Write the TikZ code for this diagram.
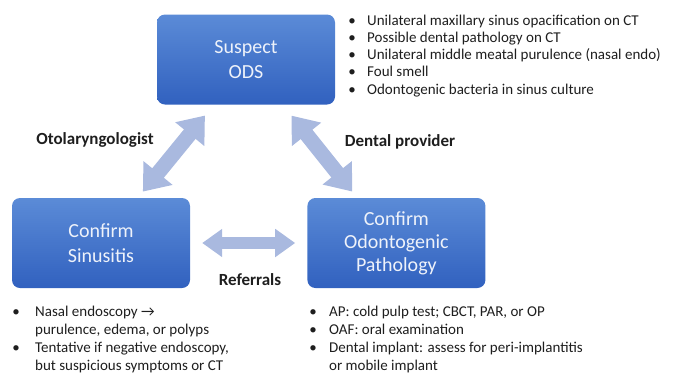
\documentclass[tikz,border=0pt]{standalone}
\usepackage{fontspec}
\setmainfont{Carlito}
\usetikzlibrary{positioning}
\usetikzlibrary{calc}
\usetikzlibrary{arrows.meta}
\definecolor{boxtop}{HTML}{5B8BD7}
\definecolor{boxbot}{HTML}{3161BF}
\definecolor{boxtxt}{HTML}{EEF2FA}
\definecolor{arrowblue}{HTML}{A9B9DF}
\definecolor{ink}{HTML}{1E1E1E}
\tikzset{
	odsbox/.style = {rectangle, rounded corners=8pt, top color=boxtop, bottom color=boxbot, minimum width=178pt, minimum height=90pt, text=boxtxt, align=center, font=\fontsize{20}{25}\selectfont},
	who/.style = {inner sep=0pt, text=ink, font=\fontsize{17}{20}\selectfont\bfseries},
	bul/.style = {anchor=base west, inner sep=0pt, text=ink},
	twoway/.style = {draw=arrowblue, line width=15pt, {Triangle[width=36pt,length=24pt]}-{Triangle[width=36pt,length=24pt]}},
	sideway/.style = {draw=arrowblue, line width=12pt, {Triangle[width=27pt,length=20pt]}-{Triangle[width=27pt,length=20pt]}}
}
\newcommand{\bu}{\makebox[10pt]{\textbullet}}

\begin{document}
\begin{tikzpicture}[x=1pt, y=-1pt]
	\useasboundingbox (0,0) rectangle (673,376);
	
	\node (ods) [odsbox] at (246,59.5) {Suspect\\ODS};
	\node (sin) [odsbox] at (101,243) {Confirm\\Sinusitis};
	\node (odo) [odsbox, right = 117pt of sin] {Confirm\\[-2pt]Odontogenic\\[-2pt]Pathology};
	
	\coordinate (lt) at ($(ods.south west)+(57,0)$);
	\coordinate (lb) at ($(sin.north west)+(126,0)$);
	\coordinate (rt) at ($(ods.south west)+(126,0)$);
	\coordinate (rb) at ($(odo.north west)+(50,0)$);
	
	\draw[twoway, shorten <=14pt, shorten >=8pt] (lt) -- (lb);
	\draw[twoway, shorten <=14pt, shorten >=8pt] (rt) -- (rb);
	\draw[sideway, shorten <=12pt, shorten >=12pt] (sin) -- (odo);
	
	\node (oto) [who] at (95,140) {Otolaryngologist};
	\node (dent) [who] at (400,142) {Dental provider};
	\node (ref) [who] at (250,280) {Referrals};
	
	% findings that raise suspicion
	\node (obs) [bul, font=\fontsize{15}{17.3}\selectfont] at (347,25) {\begin{tabular}[t]{@{}c@{\hspace{10pt}}l@{}}
		\bu & Unilateral maxillary sinus opacification on CT\\
		\bu & Possible dental pathology on CT\\
		\bu & Unilateral middle meatal purulence (nasal endo)\\
		\bu & Foul smell\\
		\bu & Odontogenic bacteria in sinus culture
	\end{tabular}};
	
	% how sinusitis is confirmed
	\node (endo) [bul, font=\fontsize{15}{18}\selectfont] at (11,316) {\begin{tabular}[t]{@{}c@{\hspace{14pt}}l@{}}
		\bu & Nasal endoscopy →\\
		    & purulence, edema, or polyps\\
		\bu & Tentative if negative endoscopy,\\
		    & but suspicious symptoms or CT
	\end{tabular}};
	
	% how the dental source is confirmed
	\node (dx) [bul, font=\fontsize{15}{18}\selectfont] at (308,316) {\begin{tabular}[t]{@{}c@{\hspace{11pt}}l@{}}
		\bu & AP: cold pulp test; CBCT, PAR, or OP\\
		\bu & OAF: oral examination\\
		\bu & Dental implant: assess for peri-implantitis\\
		    & or mobile implant
	\end{tabular}};
	
\end{tikzpicture}
\end{document}
